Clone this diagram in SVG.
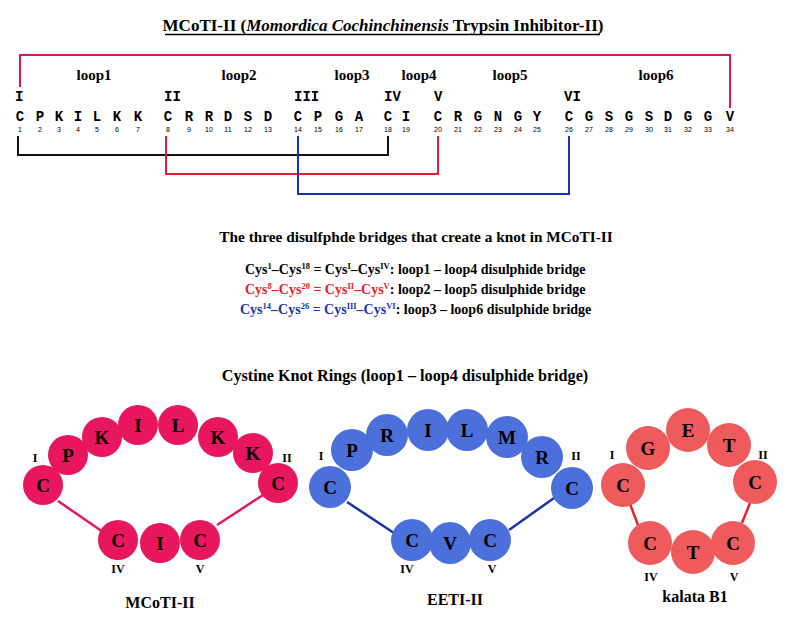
<svg xmlns="http://www.w3.org/2000/svg" width="798" height="632" viewBox="0 0 798 632">
<style>
.t{font-family:"Liberation Serif","Times New Roman",serif;font-weight:bold;fill:#000}
.seq{font-family:"Liberation Mono","Courier New",monospace;font-weight:bold;font-size:14px;fill:#000;text-anchor:middle}
.rom{font-family:"Liberation Mono","Courier New",monospace;font-weight:bold;font-size:14px;fill:#000}
.num{font-family:"Liberation Sans",Arial,sans-serif;font-size:7px;fill:#000;text-anchor:middle}
.loop{font-family:"Liberation Serif","Times New Roman",serif;font-weight:bold;font-size:15px;text-anchor:middle}
.leg{font-family:"Liberation Serif","Times New Roman",serif;font-weight:bold;font-size:14px}
.res{font-family:"Liberation Serif","Times New Roman",serif;font-weight:bold;font-size:19px;text-anchor:middle;fill:#000}
.lab{font-family:"Liberation Serif","Times New Roman",serif;font-weight:bold;font-size:12px;text-anchor:middle;fill:#000}
.name{font-family:"Liberation Serif","Times New Roman",serif;font-weight:bold;font-size:16px;text-anchor:middle;fill:#000}
.m{fill:#e8165f}
.b{fill:#4b6fdb}
.k{fill:#ef5a5c}
.red{fill:#e8202a}
.blue{fill:#1835b0}
</style>
<rect width="798" height="632" fill="#fff"/>

<!-- Title -->
<text class="t" x="383" y="31" font-size="17" text-anchor="middle">MCoTI-II (<tspan font-style="italic">Momordica Cochinchinensis</tspan> Trypsin Inhibitor-II)</text>
<line x1="165" y1="34.5" x2="600" y2="34.5" stroke="#000" stroke-width="1.3"/>

<!-- loop labels -->
<g id="loop-labels">
<text class="loop" x="94" y="80">loop1</text>
<text class="loop" x="239" y="80">loop2</text>
<text class="loop" x="352" y="80">loop3</text>
<text class="loop" x="419" y="80">loop4</text>
<text class="loop" x="510" y="80">loop5</text>
<text class="loop" x="656" y="80">loop6</text>
</g>

<!-- roman numerals -->
<g id="sequence-numerals">
<text class="rom" x="15" y="101">I</text>
<text class="rom" x="164" y="101">II</text>
<text class="rom" x="294" y="101">III</text>
<text class="rom" x="384" y="101">IV</text>
<text class="rom" x="434" y="101">V</text>
<text class="rom" x="564" y="101">VI</text>
</g>

<!-- sequence -->
<g id="sequence">
<text class="seq" x="20" y="121">C</text><text class="num" x="20" y="132">1</text>
<text class="seq" x="40" y="121">P</text><text class="num" x="40" y="132">2</text>
<text class="seq" x="59" y="121">K</text><text class="num" x="59" y="132">3</text>
<text class="seq" x="78" y="121">I</text><text class="num" x="78" y="132">4</text>
<text class="seq" x="97" y="121">L</text><text class="num" x="97" y="132">5</text>
<text class="seq" x="117" y="121">K</text><text class="num" x="117" y="132">6</text>
<text class="seq" x="138" y="121">K</text><text class="num" x="138" y="132">7</text>
<text class="seq" x="168" y="121">C</text><text class="num" x="168" y="132">8</text>
<text class="seq" x="189" y="121">R</text><text class="num" x="189" y="132">9</text>
<text class="seq" x="209" y="121">R</text><text class="num" x="209" y="132">10</text>
<text class="seq" x="228" y="121">D</text><text class="num" x="228" y="132">11</text>
<text class="seq" x="248" y="121">S</text><text class="num" x="248" y="132">12</text>
<text class="seq" x="268" y="121">D</text><text class="num" x="268" y="132">13</text>
<text class="seq" x="298" y="121">C</text><text class="num" x="298" y="132">14</text>
<text class="seq" x="318" y="121">P</text><text class="num" x="318" y="132">15</text>
<text class="seq" x="339" y="121">G</text><text class="num" x="339" y="132">16</text>
<text class="seq" x="359" y="121">A</text><text class="num" x="359" y="132">17</text>
<text class="seq" x="388" y="121">C</text><text class="num" x="388" y="132">18</text>
<text class="seq" x="406" y="121">I</text><text class="num" x="406" y="132">19</text>
<text class="seq" x="438" y="121">C</text><text class="num" x="438" y="132">20</text>
<text class="seq" x="458" y="121">R</text><text class="num" x="458" y="132">21</text>
<text class="seq" x="478" y="121">G</text><text class="num" x="478" y="132">22</text>
<text class="seq" x="498" y="121">N</text><text class="num" x="498" y="132">23</text>
<text class="seq" x="518" y="121">G</text><text class="num" x="518" y="132">24</text>
<text class="seq" x="537" y="121">Y</text><text class="num" x="537" y="132">25</text>
<text class="seq" x="569" y="121">C</text><text class="num" x="569" y="132">26</text>
<text class="seq" x="589" y="121">G</text><text class="num" x="589" y="132">27</text>
<text class="seq" x="609" y="121">S</text><text class="num" x="609" y="132">28</text>
<text class="seq" x="629" y="121">G</text><text class="num" x="629" y="132">29</text>
<text class="seq" x="649" y="121">S</text><text class="num" x="649" y="132">30</text>
<text class="seq" x="668" y="121">D</text><text class="num" x="668" y="132">31</text>
<text class="seq" x="688" y="121">G</text><text class="num" x="688" y="132">32</text>
<text class="seq" x="708" y="121">G</text><text class="num" x="708" y="132">33</text>
<text class="seq" x="730" y="121">V</text><text class="num" x="730" y="132">34</text>
</g>

<!-- connectors -->
<g id="connectors" fill="none" stroke-width="2">
<polyline points="20,87 20,55 730,55 730,108" stroke="#d8145a"/>
<polyline points="18,136 18,155 388,155 388,136" stroke="#111"/>
<polyline points="166,136 166,174 438,174 438,136" stroke="#e01e2c"/>
<polyline points="298,136 298,194 569,194 569,136" stroke="#1535b5"/>
<line x1="58" y1="501" x2="103" y2="532" stroke="#e8165f" stroke-width="2.5"/>
<line x1="217" y1="525" x2="263" y2="495" stroke="#e8165f" stroke-width="2.5"/>
<line x1="347" y1="502" x2="394" y2="533" stroke="#1835b0" stroke-width="2.5"/>
<line x1="509" y1="530" x2="554" y2="498" stroke="#1835b0" stroke-width="2.5"/>
<line x1="630" y1="504" x2="638" y2="525" stroke="#e8202a" stroke-width="2.5"/>
<line x1="750" y1="503" x2="742" y2="523" stroke="#e8202a" stroke-width="2.5"/>
</g>

<!-- Legend -->
<g id="legend">
<text class="t" x="416" y="242" font-size="15.3" text-anchor="middle">The three disulfphde bridges that create a knot in MCoTI-II</text>
<text class="leg" x="245" y="274">Cys<tspan font-size="8.5" dy="-5">1</tspan><tspan dy="5">–Cys</tspan><tspan font-size="8.5" dy="-5">18</tspan><tspan dy="5"> = Cys</tspan><tspan font-size="8.5" dy="-5">I</tspan><tspan dy="5">–Cys</tspan><tspan font-size="8.5" dy="-5">IV</tspan><tspan dy="5">: loop1 – loop4 disulphide bridge</tspan></text>
<text class="leg" x="245" y="294"><tspan class="red">Cys</tspan><tspan class="red" font-size="8.5" dy="-5">8</tspan><tspan class="red" dy="5">–Cys</tspan><tspan class="red" font-size="8.5" dy="-5">20</tspan><tspan class="red" dy="5"> = Cys</tspan><tspan class="red" font-size="8.5" dy="-5">II</tspan><tspan class="red" dy="5">–Cys</tspan><tspan class="red" font-size="8.5" dy="-5">V</tspan><tspan dy="5">: loop2 – loop5 disulphide bridge</tspan></text>
<text class="leg" x="240" y="314"><tspan class="blue">Cys</tspan><tspan class="blue" font-size="8.5" dy="-5">14</tspan><tspan class="blue" dy="5">–Cys</tspan><tspan class="blue" font-size="8.5" dy="-5">26</tspan><tspan class="blue" dy="5"> = Cys</tspan><tspan class="blue" font-size="8.5" dy="-5">III</tspan><tspan class="blue" dy="5">–Cys</tspan><tspan class="blue" font-size="8.5" dy="-5">VI</tspan><tspan dy="5">: loop3 – loop6 disulphide bridge</tspan></text>
<text class="t" x="405" y="381" font-size="16.2" text-anchor="middle">Cystine Knot Rings (loop1 – loop4 disulphide bridge)</text>
</g>

<!-- MCoTI-II ring -->
<g id="mcoti-ring">
<g id="m-C1"><circle class="m" cx="43" cy="485" r="20"/><text class="res" x="43" y="492">C</text></g>
<g id="m-P"><circle class="m" cx="68" cy="455" r="20"/><text class="res" x="68" y="462">P</text></g>
<g id="m-K1"><circle class="m" cx="102" cy="437" r="20"/><text class="res" x="102" y="444">K</text></g>
<g id="m-I1"><circle class="m" cx="138" cy="425" r="20"/><text class="res" x="138" y="432">I</text></g>
<g id="m-L"><circle class="m" cx="178" cy="425" r="20"/><text class="res" x="178" y="432">L</text></g>
<g id="m-K2"><circle class="m" cx="218" cy="437" r="20"/><text class="res" x="218" y="444">K</text></g>
<g id="m-K3"><circle class="m" cx="253" cy="453" r="20"/><text class="res" x="253" y="460">K</text></g>
<g id="m-C2"><circle class="m" cx="278" cy="483" r="20"/><text class="res" x="278" y="490">C</text></g>
<g id="m-C4"><circle class="m" cx="118" cy="540" r="20"/><text class="res" x="118" y="547">C</text></g>
<g id="m-I2"><circle class="m" cx="160" cy="543" r="20"/><text class="res" x="160" y="550">I</text></g>
<g id="m-C5"><circle class="m" cx="200" cy="540" r="20"/><text class="res" x="200" y="547">C</text></g>
<text class="lab" x="35" y="462">I</text>
<text class="lab" x="287" y="462">II</text>
<text class="lab" x="118" y="573">IV</text>
<text class="lab" x="200" y="573">V</text>
<text class="name" x="160" y="608">MCoTI-II</text>
</g>

<!-- EETI-II ring -->
<g id="eeti-ring">
<g id="e-C1"><circle class="b" cx="330" cy="487" r="21"/><text class="res" x="330" y="494">C</text></g>
<g id="e-P"><circle class="b" cx="352" cy="450" r="21"/><text class="res" x="352" y="457">P</text></g>
<g id="e-R1"><circle class="b" cx="387" cy="435" r="21"/><text class="res" x="387" y="442">R</text></g>
<g id="e-I"><circle class="b" cx="428" cy="430" r="21"/><text class="res" x="428" y="437">I</text></g>
<g id="e-L"><circle class="b" cx="467" cy="430" r="21"/><text class="res" x="467" y="437">L</text></g>
<g id="e-M"><circle class="b" cx="507" cy="437" r="21"/><text class="res" x="507" y="444">M</text></g>
<g id="e-R2"><circle class="b" cx="542" cy="457" r="21"/><text class="res" x="542" y="464">R</text></g>
<g id="e-C2"><circle class="b" cx="572" cy="488" r="21"/><text class="res" x="572" y="495">C</text></g>
<g id="e-C4"><circle class="b" cx="412" cy="540" r="21"/><text class="res" x="412" y="547">C</text></g>
<g id="e-V"><circle class="b" cx="450" cy="543" r="21"/><text class="res" x="450" y="550">V</text></g>
<g id="e-C5"><circle class="b" cx="490" cy="540" r="21"/><text class="res" x="490" y="547">C</text></g>
<text class="lab" x="321" y="460">I</text>
<text class="lab" x="576" y="460">II</text>
<text class="lab" x="407" y="573">IV</text>
<text class="lab" x="492" y="573">V</text>
<text class="name" x="455" y="605">EETI-II</text>
</g>

<!-- kalata B1 ring -->
<g id="kalata-ring">
<g id="k-C1"><circle class="k" cx="623" cy="485" r="22"/><text class="res" x="623" y="492">C</text></g>
<g id="k-G"><circle class="k" cx="648" cy="448" r="22"/><text class="res" x="648" y="455">G</text></g>
<g id="k-E"><circle class="k" cx="688" cy="430" r="22"/><text class="res" x="688" y="437">E</text></g>
<g id="k-T1"><circle class="k" cx="729" cy="445" r="22"/><text class="res" x="729" y="452">T</text></g>
<g id="k-C2"><circle class="k" cx="755" cy="482" r="22"/><text class="res" x="755" y="489">C</text></g>
<g id="k-C4"><circle class="k" cx="650" cy="543" r="22"/><text class="res" x="650" y="550">C</text></g>
<g id="k-T2"><circle class="k" cx="693" cy="552" r="22"/><text class="res" x="693" y="559">T</text></g>
<g id="k-C5"><circle class="k" cx="733" cy="543" r="22"/><text class="res" x="733" y="550">C</text></g>
<text class="lab" x="612" y="459">I</text>
<text class="lab" x="763" y="459">II</text>
<text class="lab" x="651" y="581">IV</text>
<text class="lab" x="734" y="581">V</text>
<text class="name" x="695" y="602">kalata B1</text>
</g>
</svg>
